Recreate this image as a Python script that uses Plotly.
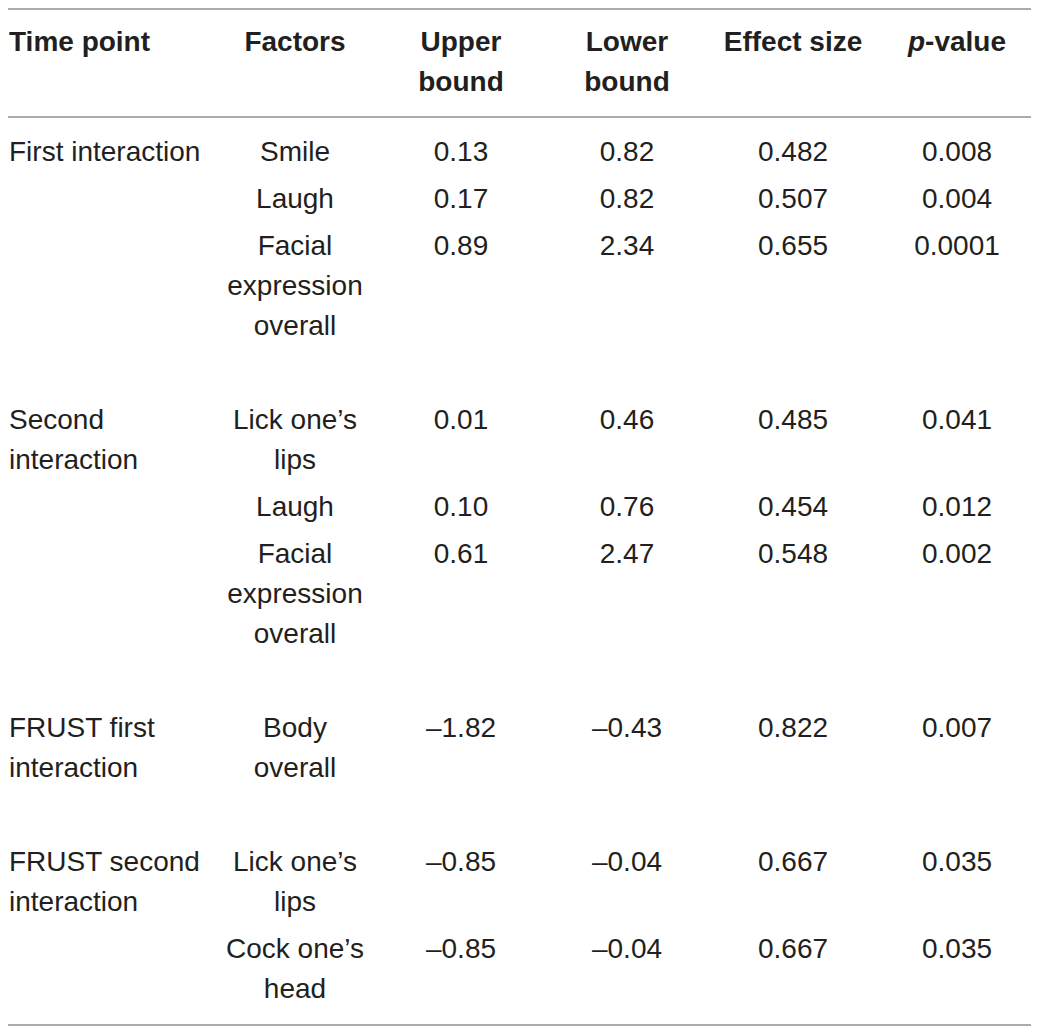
import plotly.graph_objects as go

# table content
headers = ["Time point", "Factors", "Upper\nbound", "Lower\nbound", "Effect size", "<i>p</i>-value"]
time_points = ["First interaction", "Second\ninteraction", "FRUST first\ninteraction", "FRUST second\ninteraction"]
group = [0, 0, 0, 1, 1, 1, 2, 3, 3]
factors = ["Smile", "Laugh", "Facial\nexpression\noverall", "Lick one\u2019s\nlips", "Laugh",
           "Facial\nexpression\noverall", "Body\noverall", "Lick one\u2019s\nlips", "Cock one\u2019s\nhead"]
upper = ["0.13", "0.17", "0.89", "0.01", "0.10", "0.61", "\u20131.82", "\u20130.85", "\u20130.85"]
lower = ["0.82", "0.82", "2.34", "0.46", "0.76", "2.47", "\u20130.43", "\u20130.04", "\u20130.04"]
effect = ["0.482", "0.507", "0.655", "0.485", "0.454", "0.548", "0.822", "0.667", "0.667"]
pval = ["0.008", "0.004", "0.0001", "0.041", "0.012", "0.002", "0.007", "0.035", "0.035"]

W, H = 1039, 1029
PAD = 8  # browser body margin
FONT = "Liberation Sans"
SIZE = 28
INK = "#231f20"
RULE = "#8f8f8f"
LINE = 40
TEXT_DY = 3
col_x = [9, 295, 461, 627, 793, 957]

# vertical layout
top_rule = 9
hdr_y = 41
hdr_lines = max(len(h.split("\n")) for h in headers)
head_rule = hdr_y + (hdr_lines - 1) * LINE + 36

row_y = []
y = head_rule + 34
for i in range(len(factors)):
    if i > 0:
        prev_n = len(factors[i - 1].split("\n"))
        if group[i - 1] != group[i]:
            prev_n = max(prev_n, len(time_points[group[i - 1]].split("\n")))
            y += (prev_n - 1) * LINE + 94
        else:
            y += (prev_n - 1) * LINE + 47
    row_y.append(y)
last_n = len(factors[-1].split("\n"))
bottom_rule = row_y[-1] + (last_n - 1) * LINE + 37


def explode(texts, ys):
    xs_t, xs_y = [], []
    for t, yy in zip(texts, ys):
        for k, part in enumerate(t.split("\n")):
            xs_t.append(part)
            xs_y.append(yy + k * LINE + TEXT_DY)
    return xs_t, xs_y


fig = go.Figure()

# header
for j, h in enumerate(headers):
    t, ys = explode([h], [hdr_y])
    fig.add_trace(go.Scatter(
        x=[col_x[j]] * len(t), y=ys, text=["<b>" + s + "</b>" for s in t], mode="text",
        textposition="middle right" if j == 0 else "middle center", cliponaxis=False,
        textfont=dict(family=FONT, size=SIZE, color=INK), hoverinfo="skip"))

# time point column
tp_y = [row_y[group.index(g)] for g in range(len(time_points))]
t, ys = explode(time_points, tp_y)
fig.add_trace(go.Scatter(x=[col_x[0]] * len(t), y=ys, text=t, mode="text",
                         textposition="middle right", cliponaxis=False,
                         textfont=dict(family=FONT, size=SIZE, color=INK), hoverinfo="skip"))

for j, col in enumerate([factors, upper, lower, effect, pval], start=1):
    t, ys = explode(col, row_y)
    fig.add_trace(go.Scatter(x=[col_x[j]] * len(t), y=ys, text=t, mode="text",
                             textposition="middle center", cliponaxis=False,
                             textfont=dict(family=FONT, size=SIZE, color=INK), hoverinfo="skip"))

for ry in [top_rule, head_rule, bottom_rule]:
    fig.add_shape(type="line", xref="x", yref="y", x0=PAD, x1=1033, y0=ry, y1=ry,
                  line=dict(color=RULE, width=1.5))

fig.update_layout(
    width=W - PAD, height=H - PAD, margin=dict(l=0, r=0, t=0, b=0),
    paper_bgcolor="white", plot_bgcolor="white", showlegend=False,
    xaxis=dict(range=[PAD, W], visible=False, fixedrange=True),
    yaxis=dict(range=[H, PAD], visible=False, fixedrange=True),
)
fig.write_html("out.html")
